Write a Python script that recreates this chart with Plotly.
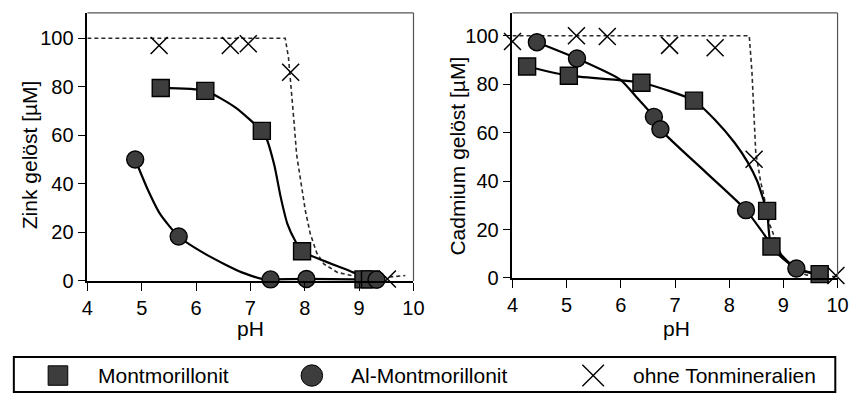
import plotly.graph_objects as go

# ---------------- Zink (left panel) ----------------
zn_mont_ph = [5.35, 6.17, 7.21, 7.95, 9.08, 9.20]
zn_mont = [79.5, 78.3, 61.8, 12.2, 0.6, 0.6]
zn_al_ph = [4.88, 5.68, 7.37, 8.03, 9.32]
zn_al = [50.0, 18.3, 0.6, 0.8, 0.5]
zn_ohne_ph = [5.32, 6.63, 6.96, 7.74, 9.52]
zn_ohne = [97.0, 97.0, 97.7, 86.0, 0.8]

# fitted curves (Zink)
zn_mont_fit_ph = [5.35, 6.17, 6.72, 7.21, 7.29, 7.44, 7.56, 7.68, 7.83, 7.95, 8.29, 8.89, 9.2]
zn_mont_fit = [79.5, 78.3, 71.5, 61.8, 59.0, 47.6, 34.2, 23.5, 16.2, 12.2, 8.8, 3.5, 0.6]
zn_al_fit_ph = [4.88, 5.10, 5.34, 5.68, 6.24, 6.84, 7.26, 7.37, 8.03, 9.32]
zn_al_fit = [50.0, 38.2, 27.5, 18.3, 10.2, 3.5, 0.5, 0.6, 0.8, 0.5]
zn_ohne_fit_ph = [4.0, 7.64, 7.70, 7.76, 7.80, 7.85, 7.92, 8.01, 8.10, 8.22, 8.35, 8.60, 9.0, 9.5, 9.85]
zn_ohne_fit = [100, 100, 92, 78, 66, 52, 41, 29, 19.5, 11.5, 7.0, 3.5, 1.5, 1.5, 2.2]

# ---------------- Cadmium (right panel) ----------------
cd_mont_ph = [4.27, 5.04, 6.38, 7.35, 8.70, 8.78, 9.67]
cd_mont = [87.3, 83.5, 80.6, 73.2, 27.7, 13.0, 1.6]
cd_al_ph = [4.45, 5.19, 6.61, 6.73, 8.31, 9.24]
cd_al = [97.3, 90.6, 66.5, 61.4, 28.0, 3.9]
cd_ohne_ph = [4.0, 5.18, 5.75, 6.90, 7.74, 8.46, 9.97]
cd_ohne = [97.6, 100.0, 99.7, 96.0, 95.0, 49.0, 1.0]

# fitted curves (Cadmium)
cd_mont_fit_ph = [4.27, 5.04, 6.38, 7.35, 7.74, 8.10, 8.34, 8.52, 8.64, 8.70, 8.78, 9.24, 9.67]
cd_mont_fit = [87.3, 83.5, 80.6, 73.2, 65.2, 55.8, 47.8, 39.8, 31.7, 27.7, 13.0, 3.9, 1.6]
cd_al_fit_ph = [4.45, 5.19, 5.99, 6.29, 6.61, 6.73, 7.56, 8.31, 8.78, 9.24, 9.67]
cd_al_fit = [97.3, 90.6, 81.9, 74.6, 66.5, 61.4, 43.8, 28.0, 14.0, 3.9, 1.2]
cd_ohne_fit_ph = [4.0, 8.37, 8.42, 8.49, 8.58, 8.62, 8.75, 8.97, 9.2, 9.42, 10.0]
cd_ohne_fit = [100, 100, 85, 51.8, 39.8, 36, 22, 9, 4, 1.2, 0.5]

ph_ticks = [4, 5, 6, 7, 8, 9, 10]
conc_ticks = [0, 20, 40, 60, 80, 100]

series_names = ["Montmorillonit", "Al-Montmorillonit", "ohne Tonmineralien"]

W, H = 861, 406
FONT = "Liberation Sans, Arial, Helvetica, sans-serif"
FILL = "#3d3d3d"


def px(x):
    return x / W


def py(y):
    return 1 - y / H


fig = go.Figure()

panels = [
    ("x", "y", zn_mont_ph, zn_mont, zn_al_ph, zn_al, zn_ohne_ph, zn_ohne,
     zn_mont_fit_ph, zn_mont_fit, zn_al_fit_ph, zn_al_fit, zn_ohne_fit_ph, zn_ohne_fit),
    ("x2", "y2", cd_mont_ph, cd_mont, cd_al_ph, cd_al, cd_ohne_ph, cd_ohne,
     cd_mont_fit_ph, cd_mont_fit, cd_al_fit_ph, cd_al_fit, cd_ohne_fit_ph, cd_ohne_fit),
]

for (xa, ya, m_x, m_y, a_x, a_y, o_x, o_y,
     mf_x, mf_y, af_x, af_y, of_x, of_y) in panels:
    # dashed curve without clay minerals
    fig.add_trace(go.Scatter(
        x=of_x, y=of_y, xaxis=xa, yaxis=ya, mode="lines",
        line=dict(color="#2a2a2a", width=1.6, dash="4px,3px"),
        showlegend=False, hoverinfo="skip", cliponaxis=False))
    # smooth curves through the clay series
    for fx, fy in ((mf_x, mf_y), (af_x, af_y)):
        fig.add_trace(go.Scatter(
            x=fx, y=fy, xaxis=xa, yaxis=ya, mode="lines",
            line=dict(color="black", width=2.2, shape="spline", smoothing=0.6),
            showlegend=False, hoverinfo="skip", cliponaxis=False))
    # markers
    fig.add_trace(go.Scatter(
        x=o_x, y=o_y, xaxis=xa, yaxis=ya, mode="markers", name=series_names[2],
        marker=dict(symbol="x-thin", size=17, line=dict(color="black", width=1.5)),
        showlegend=False, cliponaxis=False))
    fig.add_trace(go.Scatter(
        x=m_x, y=m_y, xaxis=xa, yaxis=ya, mode="markers", name=series_names[0],
        marker=dict(symbol="square", size=17, color=FILL, line=dict(color="black", width=1.4)),
        showlegend=False, cliponaxis=False))
    fig.add_trace(go.Scatter(
        x=a_x, y=a_y, xaxis=xa, yaxis=ya, mode="markers", name=series_names[1],
        marker=dict(symbol="circle", size=17, color=FILL, line=dict(color="black", width=1.4)),
        showlegend=False, cliponaxis=False))

axis_common = dict(
    showgrid=False, zeroline=False, showline=True, linecolor="black", linewidth=1.5,
    ticks="outside", ticklen=8, tickwidth=1.3, tickcolor="black",
    tickfont=dict(family=FONT, size=20, color="black"), fixedrange=True,
)

fig.update_layout(
    width=W, height=H, margin=dict(l=0, r=0, t=0, b=0),
    paper_bgcolor="white", plot_bgcolor="white", showlegend=False,
    font=dict(family=FONT, color="black"),
    xaxis=dict(domain=[px(83), px(415.7)], range=[4, 10], tickvals=ph_ticks,
               anchor="y", **axis_common),
    yaxis=dict(domain=[py(288.7), py(13.3)], range=[0, 110.4], tickvals=conc_ticks,
               anchor="x", **axis_common),
    xaxis2=dict(domain=[px(516.7), px(848.3)], range=[4, 10], tickvals=ph_ticks,
                anchor="y2", **axis_common),
    yaxis2=dict(domain=[py(285.7), py(13.3)], range=[0, 109.4], tickvals=conc_ticks,
                anchor="x2", **axis_common),
)

# thin frame on the top and right of each panel
for xa, ya in (("x", "y"), ("x2", "y2")):
    fig.add_shape(type="line", xref=f"{xa} domain", yref=f"{ya} domain",
                  x0=0, x1=1, y0=1, y1=1, line=dict(color="#555", width=1.2))
    fig.add_shape(type="line", xref=f"{xa} domain", yref=f"{ya} domain",
                  x0=1, x1=1, y0=0, y1=1, line=dict(color="#555", width=1.2))

# axis titles
title_font = dict(family=FONT, size=21, color="black")
fig.add_annotation(text="Zink gelöst [µM]", xref="paper", yref="paper",
                   x=px(24), y=py(159), textangle=-90, showarrow=False,
                   xanchor="center", yanchor="middle", font=title_font)
fig.add_annotation(text="Cadmium gelöst [µM]", xref="paper", yref="paper",
                   x=px(461), y=py(160), textangle=-90, showarrow=False,
                   xanchor="center", yanchor="middle", font=title_font)
for cx in (249, 684):
    fig.add_annotation(text="pH", xref="paper", yref="paper", x=px(cx), y=py(338),
                       showarrow=False, xanchor="center", yanchor="middle", font=title_font)

# legend box
fig.add_shape(type="rect", xref="paper", yref="paper",
              x0=px(8), x1=px(846), y0=py(403), y1=py(367),
              line=dict(color="black", width=2), fillcolor="white", layer="below")
leg_y = 386
# square key
fig.add_shape(type="rect", xref="paper", yref="paper",
              x0=px(43), x1=px(63), y0=py(leg_y + 10), y1=py(leg_y - 10),
              line=dict(color="black", width=1), fillcolor=FILL)
# circle key
fig.add_shape(type="circle", xref="paper", yref="paper",
              x0=px(301), x1=px(323), y0=py(leg_y + 11), y1=py(leg_y - 11),
              line=dict(color="black", width=1), fillcolor=FILL)
# cross key
for (x0, y0, x1, y1) in ((588, leg_y - 11, 610, leg_y + 11), (588, leg_y + 11, 610, leg_y - 11)):
    fig.add_shape(type="line", xref="paper", yref="paper",
                  x0=px(x0), y0=py(y0), x1=px(x1), y1=py(y1),
                  line=dict(color="black", width=1.4))

legend_font = dict(family=FONT, size=21, color="black")
for tx, name in zip((92, 350, 638), series_names):
    fig.add_annotation(text=name, xref="paper", yref="paper", x=px(tx), y=py(leg_y),
                       showarrow=False, xanchor="left", yanchor="middle", font=legend_font)

fig.write_html("out.html")
